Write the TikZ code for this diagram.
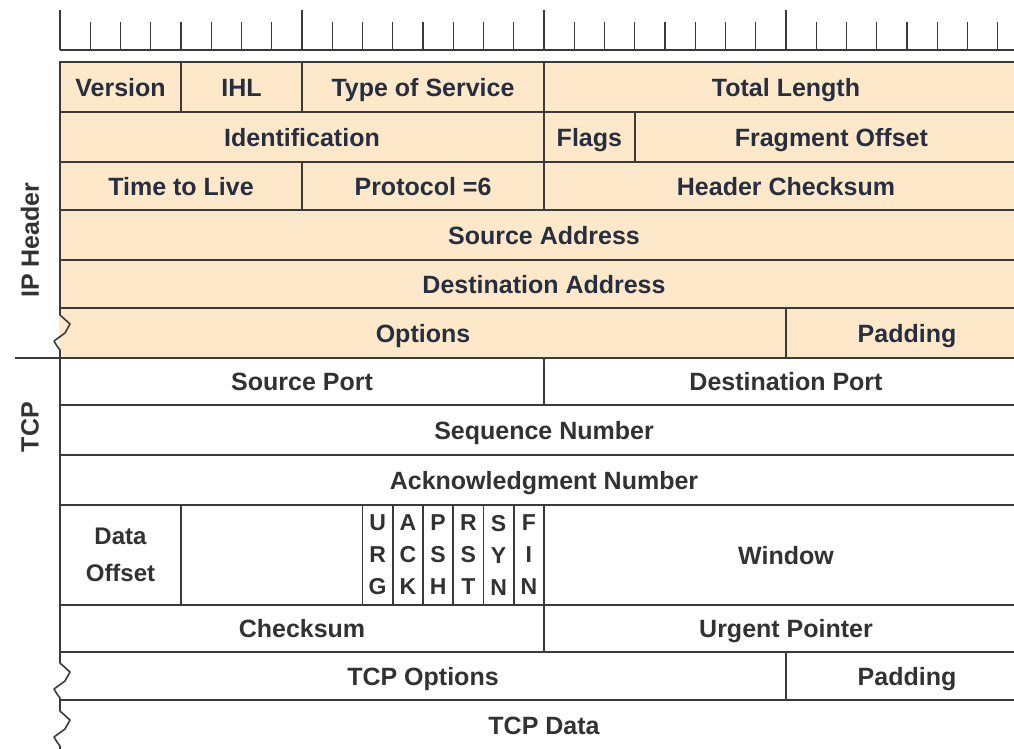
\documentclass[tikz,border=0pt]{standalone}
\usepackage{fontspec}
\setmainfont{Liberation Sans}
\usetikzlibrary{positioning}
\definecolor{wheat}{RGB}{253,233,201}
\definecolor{ink}{RGB}{58,58,58}
\definecolor{slate}{RGB}{38,46,64}
\definecolor{graytext}{RGB}{50,50,50}

\tikzset{
  field/.style={draw=ink,line width=1.6pt,anchor=north west,outer sep=0pt,inner sep=0pt,
    align=center,font=\bfseries\fontsize{25}{30}\selectfont},
  cell/.style={field,text height=24pt,text depth=6pt},
  ipfield/.style={cell,fill=wheat,text=slate},
  tcpfield/.style={cell,fill=white,text=graytext},
  bits/.style={minimum width=#1*30.25pt},
  tall/.style={minimum height=#1pt},
  flagbox/.style={field,fill=white,text=graytext,bits=1,tall=100,font=\bfseries\fontsize{23}{32}\selectfont},
  sidelabel/.style={rotate=90,text=graytext,font=\bfseries\fontsize{25}{28}\selectfont},
  tick/.style={draw=ink,line width=1.4pt},
  pics/brk/.style={code={
    \draw[#1,line width=3pt] (0pt,0pt) -- (0pt,-38pt);
    \draw[ink,line width=1.6pt,line join=round]
      (0pt,0pt) -- (0pt,-3pt) -- (10pt,-12pt) -- (5pt,-21pt) -- (-6pt,-29pt) -- (-3pt,-34pt) -- (0pt,-38pt);
  }}
}

\begin{document}
\begin{tikzpicture}[x=30.25pt,y=-1pt]
  \useasboundingbox (-1.9835,0) rectangle (31.537,748);
  \clip (-1.9835,0) rectangle (31.537,748);

  % bit ruler
  \draw[tick] (0,50) -- (32,50);
  \foreach \i in {1,...,31} \draw[tick] (\i,50) -- (\i,22);
  \foreach \i in {0,8,16,24} \draw[tick] (\i,50) -- (\i,10);

  % IP header
  \node[ipfield,bits=4,tall=50] (ver) at (0,62) {Version};
  \node[ipfield,bits=4,tall=50,right=0pt of ver] (ihl) {IHL};
  \node[ipfield,bits=8,tall=50,right=0pt of ihl] (tos) {Type of Service};
  \node[ipfield,bits=16,tall=50,right=0pt of tos] (totlen) {Total Length};

  \node[ipfield,bits=16,tall=50] (ident) at (ver.south west) {Identification};
  \node[ipfield,bits=3,tall=50,right=0pt of ident] (flags) {Flags};
  \node[ipfield,bits=13,tall=50,right=0pt of flags] (fragoff) {Fragment Offset};

  \node[ipfield,bits=8,tall=48] (ttl) at (ident.south west) {Time to Live};
  \node[ipfield,bits=8,tall=48,right=0pt of ttl] (proto) {Protocol =6};
  \node[ipfield,bits=16,tall=48,right=0pt of proto] (hcsum) {Header Checksum};

  \node[ipfield,bits=32,tall=50] (srcaddr) at (ttl.south west) {Source Address};
  \node[ipfield,bits=32,tall=48] (dstaddr) at (srcaddr.south west) {Destination Address};

  \node[ipfield,bits=24,tall=50] (ipopt) at (dstaddr.south west) {Options};
  \node[ipfield,bits=8,tall=50,right=0pt of ipopt] (ippad) {Padding};

  % TCP header
  \node[tcpfield,bits=16,tall=47] (srcport) at (ipopt.south west) {Source Port};
  \node[tcpfield,bits=16,tall=47,right=0pt of srcport] (dstport) {Destination Port};

  \node[tcpfield,bits=32,tall=50] (seq) at (srcport.south west) {Sequence Number};
  \node[tcpfield,bits=32,tall=50] (ack) at (seq.south west) {Acknowledgment Number};

  \node[field,fill=white,text=graytext,bits=4,tall=100,font=\bfseries\fontsize{24}{37}\selectfont] (dataoff) at (ack.south west) {Data\\Offset};
  \node[tcpfield,bits=6,tall=100,right=0pt of dataoff] (resv) {};
  \node[flagbox,right=0pt of resv] (urg) {U\\R\\G};
  \node[flagbox,right=0pt of urg] (ackf) {A\\C\\K};
  \node[flagbox,right=0pt of ackf] (psh) {P\\S\\H};
  \node[flagbox,right=0pt of psh] (rst) {R\\S\\T};
  \node[flagbox,right=0pt of rst] (syn) {S\\Y\\N};
  \node[flagbox,right=0pt of syn] (fin) {F\\I\\N};
  \node[tcpfield,bits=16,tall=100,right=0pt of fin] (window) {Window};

  \node[tcpfield,bits=16,tall=47] (tcpcsum) at (dataoff.south west) {Checksum};
  \node[tcpfield,bits=16,tall=47,right=0pt of tcpcsum] (urgptr) {Urgent Pointer};

  \node[tcpfield,bits=24,tall=48] (tcpopt) at (tcpcsum.south west) {TCP Options};
  \node[tcpfield,bits=8,tall=48,right=0pt of tcpopt] (tcppad) {Padding};

  \node[tcpfield,bits=32,tall=50] (tcpdata) at (tcpopt.south west) {TCP Data};

  % breaks in the left edge
  \pic at (0,312) {brk=wheat};
  \pic at (0,660) {brk=white};
  \pic at (0,708) {brk=white};

  % side labels
  \coordinate (split) at (-1.488,358);
  \draw[draw=ink,line width=1.6pt] (split) -- (srcport.north west);
  \node[sidelabel] (iplab) at (-0.99,240) {IP Header};
  \node[sidelabel] (tcplab) at (-0.99,427) {TCP};
\end{tikzpicture}
\end{document}
